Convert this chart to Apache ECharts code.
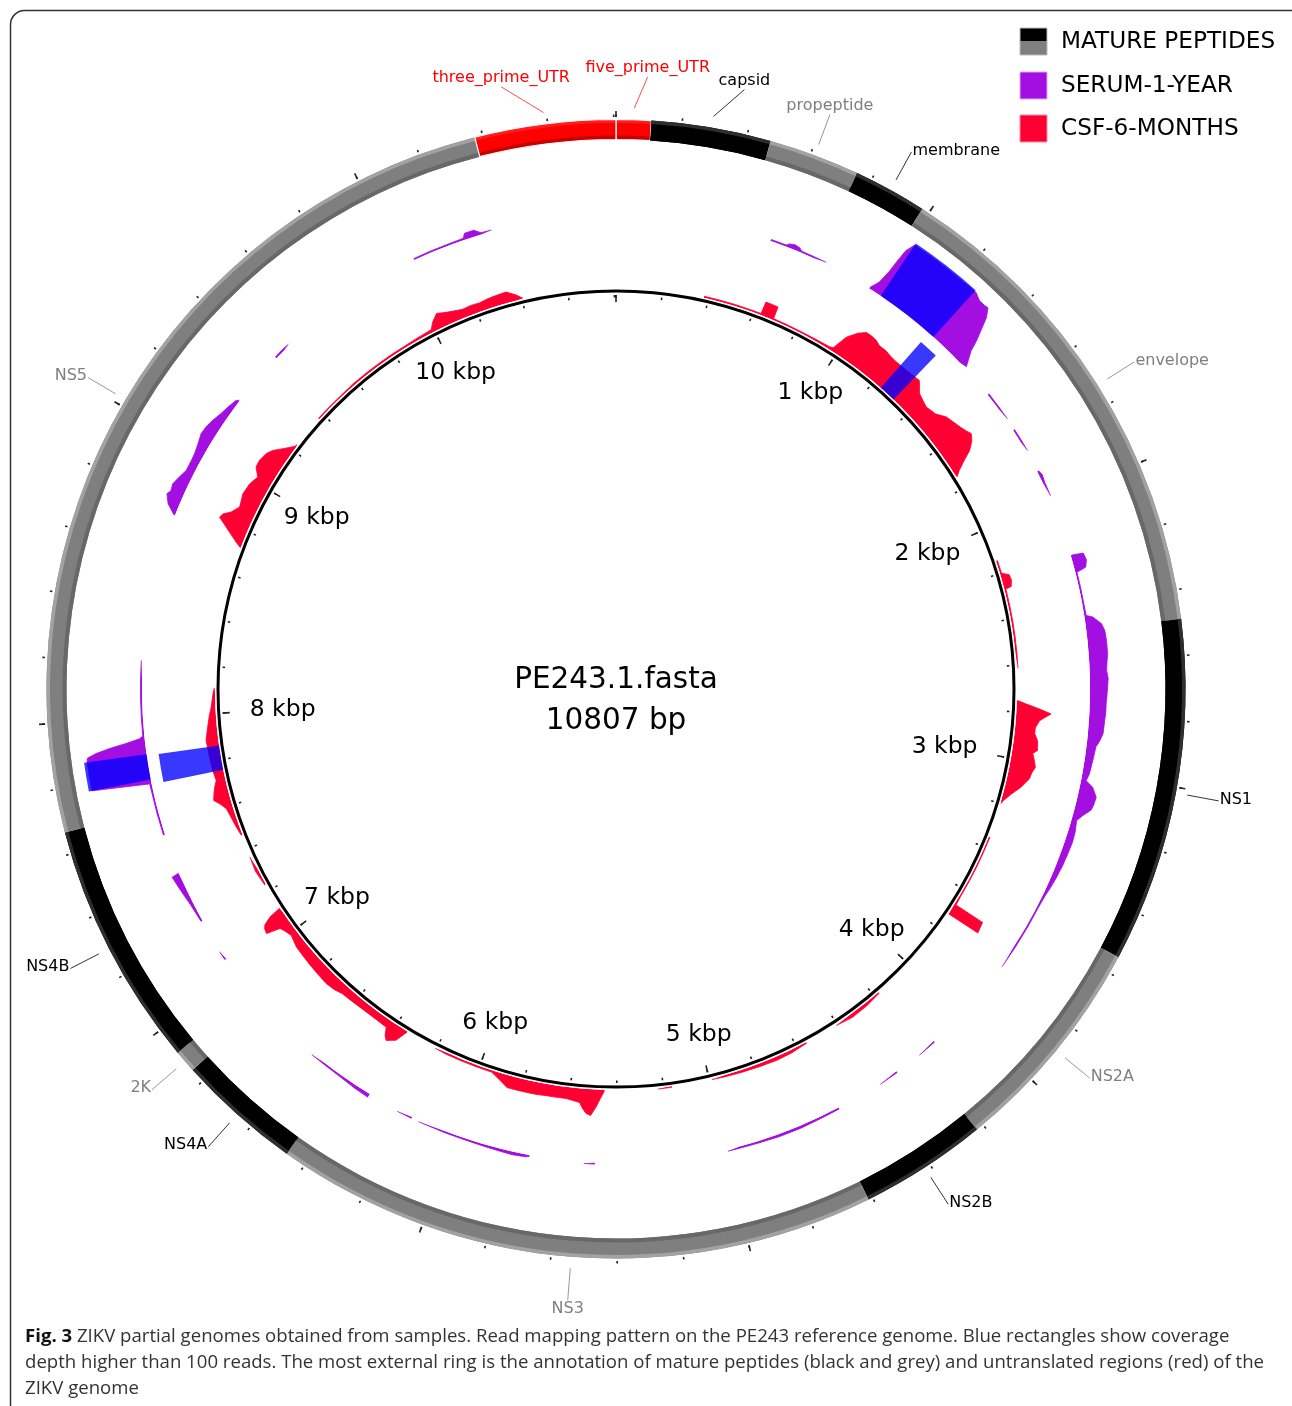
<!DOCTYPE html>
<html>
<head>
<meta charset="utf-8">
<script src="https://cdn.jsdelivr.net/npm/echarts@6/dist/echarts.min.js"></script>
<style>
html,body{margin:0;padding:0;background:#fff;}
#chart{width:1292px;height:1406px;}
</style>
</head>
<body>
<div id="chart"></div>
<script>
// ---------------- DATA ----------------
const GENOME_LENGTH = 10807;

const featureNames = ['five_prime_UTR','capsid','propeptide','membrane','envelope','NS1','NS2A','NS2B','NS3','NS4A','2K','NS4B','NS5','three_prime_UTR'];
const featureStart = [1, 108, 474, 753, 978, 2490, 3546, 4224, 4614, 6465, 6846, 6915, 7668, 10377];
const featureEnd   = [107, 473, 752, 977, 2489, 3545, 4223, 4613, 6464, 6845, 6914, 7667, 10376, 10807];
const featureKind  = ['utr','black','grey','black','grey','black','grey','black','grey','black','grey','black','grey','utr'];

const kbpTickPositions = [1000, 2000, 3000, 4000, 5000, 6000, 7000, 8000, 9000, 10000];
const kbpTickLabels = ['1 kbp','2 kbp','3 kbp','4 kbp','5 kbp','6 kbp','7 kbp','8 kbp','9 kbp','10 kbp'];

// CSF-6-MONTHS coverage: [position (bp), relative depth (0-100)]; null = no coverage
const csfCoverage = [
  [380,2.5],[450,2.5],[520,2.5],[590,2.5],[634,2.5],[636,23],[690,23],[692,2.5],[760,2.5],[830,2.5],[900,3],[960,4],
  [975,6],[997,32],[1027,48],[1054,57],[1080,57],[1102,56],[1126,52],[1159,52],[1185,50],[1210,49],[1252,49],[1290,50],
  [1336,52],[1375,37],[1405,33],[1433,30],[1480,34],[1516,44],[1550,48],[1585,52],[1610,56],[1630,60],[1654,54],
  [1681,42],[1702,26],[1726,10],[1745,1],
  null,
  [2143,2.5],[2200,2.5],[2215,14],[2240,15],[2265,12],[2270,2.5],[2340,2.5],[2410,2.5],[2480,2.5],[2550,2.5],[2614,2.5],
  null,
  [2751,1],[2764,15],[2785,40],[2800,57],[2815,48],[2830,39],[2860,33],[2885,33],[2912,39],[2951,41],[2966,34],[2990,38],
  [3019,42],[3045,38],[3071,36],[3110,26],[3149,13],[3186,3],[3200,1],
  null,
  [3350,2],[3420,2],[3490,2],[3560,2],[3630,2],[3675,3],[3677,55],[3722,58],[3724,1],
  null,
  [4176,2],[4250,5],[4330,6],[4407,2],
  null,
  [4554,2],[4630,5],[4700,6],[4780,5],[4860,4],[4930,3],[4989,2],
  null,
  [5164,2],[5224,2],
  null,
  [5453,2],[5466,12],[5486,29],[5506,43],[5525,40],[5540,33],[5555,23],[5611,19],[5650,19],[5695,19],[5740,20],[5781,20],
  [5820,20],[5863,20],[5898,12],[5944,3],[6010,3],[6080,3],[6150,3],[6206,2],
  null,
  [6344,1],[6366,22],[6400,31],[6415,25],[6430,13],[6480,12],[6550,12],[6610,13],[6662,14],[6700,18],[6740,20],[6790,19],
  [6847,18],[6890,17],[6937,16],[6988,11],[7020,15],[7040,19],[7055,42],[7075,40],[7088,36],[7103,22],[7112,1],
  null,
  [7230,2],[7300,5],[7365,3],
  null,
  [7465,2],[7505,5],[7554,8],[7594,11],[7620,19],[7640,27],[7665,24],[7692,20],[7718,15],[7760,17],[7800,18],[7862,19],
  [7891,20],[7945,15],[7990,11],[8028,7],[8092,3],[8110,1],
  null,
  [8725,1],[8739,10],[8781,34],[8809,51],[8826,48],[8847,37],[8880,28],[8935,33],[8983,31],[9024,25],[9056,36],[9087,37],
  [9123,34],[9150,28],[9180,16],[9217,3],[9230,1],
  null,
  [9375,2],[9440,2],[9510,2],[9580,3],[9650,3],[9720,3],[9790,3],[9860,3],[9930,4],[9990,5],[10010,15],[10040,25],
  [10078,20],[10110,17],[10147,14],[10185,15],[10222,14],[10260,16],[10300,17],[10342,18],[10380,9],[10405,1]
];

// SERUM-1-YEAR coverage
const serumCoverage = [
  [571,2.5],[630,2.5],[640,6],[660,8],[680,6],[690,2.5],[740,2.5],[787,2.5],
  null,
  [970,2],[988,17],[997,41],[1000,60],[1005,82],[1019,97],[1080,97],[1140,97],[1200,97],[1267,98],[1294,92],[1317,92],
  [1330,93],[1349,80],[1366,60],[1381,43],[1393,26],[1423,3],
  null,
  [1550,2.5],[1610,2.5],[1663,2.5],
  null,
  [1709,2.5],[1760,2.5],[1798,2.5],
  null,
  [1882,2.5],[1900,5],[1930,3],[1982,2.5],
  null,
  [2210,2.5],[2215,20],[2240,22],[2265,18],[2275,2.5],[2330,2.5],[2390,2.5],[2435,3],[2444,13],[2471,25],[2497,29],
  [2532,30],[2579,30],[2610,28],[2636,27],[2665,29],[2695,28],[2725,27],[2753,26],[2781,26],[2811,25],[2859,24],
  [2885,20],[2908,15],[2957,13],[3008,11],[3033,8],[3051,20],[3083,29],[3110,28],[3131,26],[3158,15],[3180,8],
  [3220,11],[3260,12],[3305,11],[3350,10],[3400,8],[3440,6],[3470,4],[3521,2.5],[3600,2.5],[3690,2.5],[3774,2.5],
  null,
  [4141,2.5],[4214,2.5],
  null,
  [4315,2.5],[4390,2.5],
  null,
  [4563,2.5],[4640,3],[4720,4],[4800,4],[4880,3],[4950,2.5],[4995,2.5],
  null,
  [5480,2.5],[5520,2.5],
  null,
  [5719,2.5],[5733,4],[5780,5],[5830,4],[5900,3],[5970,2.5],[6040,2.5],[6140,2.5],
  null,
  [6168,2.5],[6225,2.5],
  null,
  [6343,6],[6400,5],[6470,3],[6540,2.5],[6597,2.5],
  null,
  [7064,2.5],[7099,2.5],
  null,
  [7227,2.5],[7300,5],[7360,9],[7415,13],[7420,1],
  null,
  [7568,2.5],[7650,2.5],[7724,2.5],[7760,3],[7775,95],[7820,95],[7870,95],[7881,94],[7893,79],[7904,57],[7915,30],
  [7926,8],[7935,2.5],[8000,2.5],[8070,2.5],[8140,2.5],[8209,2.5],
  null,
  [8751,2],[8780,17],[8811,25],[8826,21],[8851,23],[8884,18],[8914,13],[8956,13],[8983,14],[9019,17],[9055,21],
  [9083,20],[9115,17],[9153,12],[9186,9],[9222,5],[9230,1],
  null,
  [9434,2.5],[9470,3],[9500,2.5],
  null,
  [10051,2.5],[10120,2.5],[10190,2.5],[10245,3],[10255,10],[10290,10],[10312,3],[10351,2.5]
];

// regions with coverage depth > 100 reads: [start, end]
const csfHighDepth = [[1240, 1315], [7757, 7862]];
const serumHighDepth = [[1019, 1262], [7775, 7868]];

const legendLabels = ['MATURE PEPTIDES', 'SERUM-1-YEAR', 'CSF-6-MONTHS'];
const centerLines = ['PE243.1.fasta', '10807 bp'];
const captionBold = 'Fig. 3';
const captionLines = [
  ' ZIKV partial genomes obtained from samples. Read mapping pattern on the PE243 reference genome. Blue rectangles show coverage',
  'depth higher than 100 reads. The most external ring is the annotation of mature peptides (black and grey) and untranslated regions (red) of the',
  'ZIKV genome'
];

// ---------------- LAYOUT / STYLE ----------------
const CX = 616, CY = 689;
const RING = {r0: 549.5, r1: 569.5};
const LEADER = {r0: 581, r1: 613};
const KBP_LABEL_R = 367;
const labelAngleOverride = {three_prime_UTR: 10483, five_prime_UTR: 89, capsid: 363};
const CSF_COLOR = '#ff0033';
const SERUM_COLOR = '#a20fe0';
const HIGH_COLOR = 'rgba(0,0,255,0.78)';
const kindStyle = {
  black: {base:'#000000', inner:'#000000', outer:'#2e2e2e', text:'#000000', line:'#333333'},
  grey:  {base:'#7f7f7f', inner:'#686868', outer:'#a2a2a2', text:'#7f7f7f', line:'#999999'},
  utr:   {base:'#ff0000', inner:'#c80000', outer:'#ff1c1c', text:'#ff0000', line:'#ff4d4d'}
};
const FONT = '"DejaVu Sans", Verdana, sans-serif';

const measureCtx = document.createElement('canvas').getContext('2d');
function textWidth(t, font) { measureCtx.font = font; return measureCtx.measureText(t).width; }

function screenAngle(api, cs, rv, bp) {
  const p = api.coord([rv, bp]);
  return Math.atan2(p[1] - cs.cy, p[0] - cs.cx);
}
function radiusOf(api, cs, rv, bp) {
  const p = api.coord([rv, bp]);
  return Math.hypot(p[0] - cs.cx, p[1] - cs.cy);
}
function arcSector(api, cs, bp0, bp1, rv0, rv1, style) {
  let a0 = screenAngle(api, cs, rv1, bp0);
  let a1 = screenAngle(api, cs, rv1, bp1);
  if (a1 <= a0) a1 += Math.PI * 2;
  return {
    type: 'sector',
    shape: {cx: cs.cx, cy: cs.cy, r0: radiusOf(api, cs, rv0, bp0), r: radiusOf(api, cs, rv1, bp0),
            startAngle: a0, endAngle: a1, clockwise: true},
    style: style
  };
}

function toPolarLine(arr) {
  return arr.map(p => p ? [p[1], p[0]] : ['-', '-']);
}

const baseAngle = {type:'value', min:0, max:GENOME_LENGTH, startAngle:90, clockwise:true,
  axisLine:{show:false}, axisTick:{show:false}, axisLabel:{show:false}, splitLine:{show:false},
  splitArea:{show:false}, minorTick:{show:false}, minorSplitLine:{show:false}};

const polars = [
  {center:[CX,CY], radius:[0,600]},      // 0 frame (1 value = 1 px)
  {center:[CX,CY], radius:398},          // 1 inner circle
  {center:[CX,CY], radius:394},          // 2 inner 200 bp ticks
  {center:[CX,CY], radius:394},          // 3 inner kbp ticks
  {center:[CX,CY], radius:572},          // 4 outer 200 bp ticks
  {center:[CX,CY], radius:572},          // 5 outer kbp ticks
  {center:[CX,CY], radius:[401,462]},    // 6 CSF track
  {center:[CX,CY], radius:[474,537]}     // 7 SERUM track
];
const angleAxes = polars.map((p, i) => Object.assign({}, baseAngle, {polarIndex:i}));
angleAxes[1].axisLine = {show:true, lineStyle:{color:'#000', width:3}};
angleAxes[2].interval = 200; angleAxes[2].axisTick = {show:true, inside:true, length:2.5, lineStyle:{color:'#222', width:1.6}};
angleAxes[3].interval = 1000; angleAxes[3].axisTick = {show:true, inside:true, length:7, lineStyle:{color:'#222', width:1.6}};
angleAxes[4].interval = 200; angleAxes[4].axisTick = {show:true, inside:false, length:2.5, lineStyle:{color:'#222', width:1.6}};
angleAxes[5].interval = 1000; angleAxes[5].axisTick = {show:true, inside:false, length:6, lineStyle:{color:'#222', width:1.6}};
const radiusAxes = polars.map((p, i) => ({polarIndex:i, type:'value', min:0, max: i === 0 ? 600 : 100, show:false,
  axisLine:{show:false}, axisTick:{show:false}, axisLabel:{show:false}, splitLine:{show:false}}));

const series = [];

// annotation ring
series.push({
  type:'custom', coordinateSystem:'polar', polarIndex:0, silent:true, z:3,
  data: featureStart.map((s, i) => [s - 1, featureEnd[i], i]),
  renderItem: function (params, api) {
    const cs = params.coordSys;
    const s = api.value(0), e = api.value(1), i = api.value(2);
    const k = kindStyle[featureKind[i]];
    const utr = featureKind[i] === 'utr';
    return {type:'group', children:[
      arcSector(api, cs, s, e, RING.r0, RING.r1, {fill:k.base}),
      arcSector(api, cs, s, e, RING.r0, RING.r0 + 4, {fill:k.inner}),
      arcSector(api, cs, s, e, RING.r1 - 3.5, RING.r1, {fill:k.outer}),
      arcSector(api, cs, s, e, RING.r0, RING.r1, {fill:'none', stroke: utr ? '#ffffff' : 'none', lineWidth: utr ? 1.2 : 0})
    ]};
  }
});

// annotation labels with leader lines
series.push({
  type:'custom', coordinateSystem:'polar', polarIndex:0, silent:true, z:6,
  data: featureStart.map((s, i) => [s, featureEnd[i], i]),
  renderItem: function (params, api) {
    const cs = params.coordSys;
    const s = api.value(0), e = api.value(1), i = api.value(2);
    const name = featureNames[i];
    const k = kindStyle[featureKind[i]];
    const mid = (s + e) / 2;
    const lb = labelAngleOverride[name] !== undefined ? labelAngleOverride[name] : mid;
    const p1 = api.coord([LEADER.r0, mid]);
    const p2 = api.coord([LEADER.r1, lb]);
    const d = Math.hypot(p2[0] - cs.cx, p2[1] - cs.cy);
    const ux = (p2[0] - cs.cx) / d, uy = (p2[1] - cs.cy) / d;
    const font = '16px ' + FONT;
    let tx, ty, align, valign;
    if (Math.abs(ux) < 0.42) {
      tx = p2[0]; ty = p2[1] + (uy < 0 ? -1 : 1); align = 'center'; valign = uy < 0 ? 'bottom' : 'top';
    } else {
      tx = p2[0] + (ux > 0 ? 1 : -1); ty = p2[1] - 1.5; align = ux > 0 ? 'left' : 'right'; valign = 'middle';
    }
    return {type:'group', children:[
      {type:'line', shape:{x1:p1[0], y1:p1[1], x2:p2[0], y2:p2[1]}, style:{stroke:k.line, lineWidth:1}},
      {type:'text', x: tx, y: ty,
       style:{text:name, font:font, fill:k.text, align:align, verticalAlign:valign}}
    ]};
  }
});

// kbp labels inside the inner circle
series.push({
  type:'custom', coordinateSystem:'polar', polarIndex:0, silent:true, z:6,
  data: kbpTickPositions.map((bp, i) => [KBP_LABEL_R, bp, i]),
  renderItem: function (params, api) {
    const cs = params.coordSys;
    const p = api.coord([api.value(0), api.value(1)]);
    const label = kbpTickLabels[api.value(2)];
    const d = Math.hypot(p[0] - cs.cx, p[1] - cs.cy);
    const ux = (p[0] - cs.cx) / d, uy = (p[1] - cs.cy) / d;
    const font = '23.5px ' + FONT;
    const w = textWidth(label, font), h = 22;
    const he = Math.min(Math.abs(ux) > 1e-6 ? w / 2 / Math.abs(ux) : 1e9, Math.abs(uy) > 1e-6 ? h / 2 / Math.abs(uy) : 1e9);
    return {type:'text', x: p[0] - ux * he, y: p[1] - uy * he,
      style:{text:label, font:font, fill:'#000', align:'center', verticalAlign:'middle'}};
  }
});

// coverage tracks
series.push({
  name:'CSF-6-MONTHS', type:'line', coordinateSystem:'polar', polarIndex:6, z:4, silent:true,
  data: toPolarLine(csfCoverage), symbol:'none', connectNulls:false, smooth:false,
  lineStyle:{color:CSF_COLOR, width:0.8}, areaStyle:{color:CSF_COLOR, opacity:1}
});
series.push({
  name:'SERUM-1-YEAR', type:'line', coordinateSystem:'polar', polarIndex:7, z:4, silent:true,
  data: toPolarLine(serumCoverage), symbol:'none', connectNulls:false, smooth:false,
  lineStyle:{color:SERUM_COLOR, width:0.8}, areaStyle:{color:SERUM_COLOR, opacity:1}
});

// high-depth rectangles
function highRender(params, api) {
  const cs = params.coordSys;
  return arcSector(api, cs, api.value(0), api.value(1), 0, 100, {fill:HIGH_COLOR});
}
series.push({type:'custom', coordinateSystem:'polar', polarIndex:6, silent:true, z:5,
  data: csfHighDepth.map(r => [r[0], r[1]]), renderItem: highRender});
series.push({type:'custom', coordinateSystem:'polar', polarIndex:7, silent:true, z:5,
  data: serumHighDepth.map(r => [r[0], r[1]]), renderItem: highRender});

// graphics: border, legend, centre text, caption
const legendColors = [null, SERUM_COLOR, CSF_COLOR];
const legendTop = [28, 72, 115];
const graphics = [
  {type:'rect', shape:{x:10.5, y:10.5, width:1300, height:1420, r:14}, style:{fill:'none', stroke:'#333', lineWidth:1.5}, z:1}
];
legendLabels.forEach((lab, i) => {
  if (i === 0) {
    graphics.push({type:'rect', shape:{x:1020, y:legendTop[i], width:27, height:13.5}, style:{fill:'#000'}});
    graphics.push({type:'rect', shape:{x:1020, y:legendTop[i] + 13.5, width:27, height:13.5}, style:{fill:'#7f7f7f'}});
    graphics.push({type:'rect', shape:{x:1020, y:legendTop[i], width:27, height:27}, style:{fill:'none', stroke:'#bbb', lineWidth:1}});
  } else {
    graphics.push({type:'rect', shape:{x:1020, y:legendTop[i], width:27, height:27}, style:{fill:legendColors[i], stroke: i === 1 ? '#d6a8f3' : '#ff8aa3', lineWidth:1}});
  }
  graphics.push({type:'text', x:1061, y:legendTop[i] + 14, style:{text:lab, font:'23.2px ' + FONT, fill:'#000', align:'left', verticalAlign:'middle'}});
});
graphics.push({type:'text', x:CX, y:680, style:{text:centerLines[0], font:'29.5px ' + FONT, fill:'#000', align:'center', verticalAlign:'middle'}});
graphics.push({type:'text', x:CX, y:721, style:{text:centerLines[1], font:'29.5px ' + FONT, fill:'#000', align:'center', verticalAlign:'middle'}});
const capFont = '18.6px "Open Sans", "Noto Sans", sans-serif';
const boldW = textWidth(captionBold, 'bold ' + capFont);
graphics.push({type:'text', x:25, y:1337, style:{text:captionBold, font:'bold ' + capFont, fill:'#111', align:'left', verticalAlign:'middle'}});
graphics.push({type:'text', x:25 + boldW, y:1337, style:{text:captionLines[0], font:capFont, fill:'#333', align:'left', verticalAlign:'middle'}});
graphics.push({type:'text', x:25, y:1363, style:{text:captionLines[1], font:capFont, fill:'#333', align:'left', verticalAlign:'middle'}});
graphics.push({type:'text', x:25, y:1389, style:{text:captionLines[2], font:capFont, fill:'#333', align:'left', verticalAlign:'middle'}});

const chart = echarts.init(document.getElementById('chart'), null, {renderer:'canvas'});
chart.setOption({
  animation:false,
  backgroundColor:'#ffffff',
  polar: polars,
  angleAxis: angleAxes,
  radiusAxis: radiusAxes,
  series: series,
  graphic: graphics
});
</script>
</body>
</html>
